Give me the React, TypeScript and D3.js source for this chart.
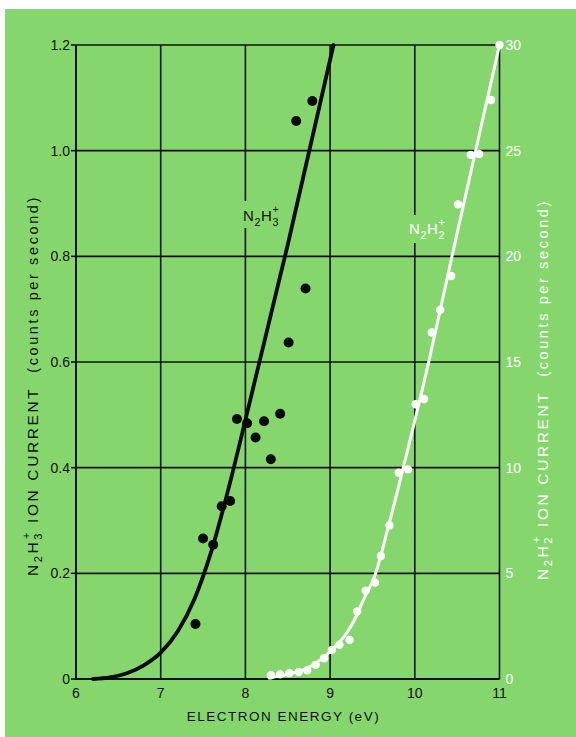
import React from 'react';
import * as d3 from 'd3';

const xTicks = [6, 7, 8, 9, 10, 11];
const leftTicks = [0, 0.2, 0.4, 0.6, 0.8, 1.0, 1.2];
const rightTicks = [0, 5, 10, 15, 20, 25, 30];

// N2H3+ measured points (left axis)
const h3X = [7.41, 7.5, 7.62, 7.72, 7.82, 7.9, 8.02, 8.12, 8.22, 8.3, 8.41, 8.51, 8.6, 8.71, 8.79];
const h3Y = [0.104, 0.266, 0.254, 0.327, 0.337, 0.492, 0.484, 0.457, 0.488, 0.416, 0.502, 0.637, 1.056, 0.739, 1.094];
// N2H3+ fitted curve
const h3CurveX = [6.2, 6.4, 6.6, 6.8, 7.0, 7.2, 7.4, 7.6, 7.8, 8.0, 8.5, 9.04];
const h3CurveY = [0, 0.003, 0.011, 0.026, 0.05, 0.09, 0.152, 0.243, 0.36, 0.49, 0.822, 1.2];

// N2H2+ measured points (right axis)
const h2X = [8.3, 8.41, 8.52, 8.63, 8.73, 8.83, 8.93, 9.02, 9.11, 9.23, 9.32, 9.42, 9.53, 9.6, 9.7, 9.81, 9.92, 10.01, 10.11, 10.2, 10.3, 10.43, 10.51, 10.66, 10.76, 10.9, 11.0];
const h2Y = [0.18, 0.22, 0.28, 0.33, 0.41, 0.67, 0.98, 1.37, 1.62, 1.85, 3.2, 4.18, 4.56, 5.82, 7.26, 9.76, 9.92, 13.0, 13.25, 16.4, 17.46, 19.07, 22.46, 24.8, 24.84, 27.4, 30];
// N2H2+ fitted curve
const h2CurveX = [8.28, 8.5, 8.7, 8.9, 9.0, 9.1, 9.2, 9.3, 9.4, 9.52, 9.7, 9.87, 10.17, 10.45, 10.73, 11.0];
const h2CurveY = [0.05, 0.22, 0.45, 0.95, 1.3, 1.7, 2.2, 2.9, 3.8, 4.8, 7.4, 10.1, 15.1, 20.2, 25.2, 30];

const GREEN = '#86d66e';
const FONT = '"Liberation Sans", Arial, sans-serif';

function Formula({ sub2, x, y, size, fill }: { sub2: string; x: number; y: number; size: number; fill: string }) {
  const s = size * 0.72;
  return (
    <text x={x} y={y} fontSize={size} fill={fill} letterSpacing={0.6}>
      N<tspan dy={size * 0.3} fontSize={s}>2</tspan>
      <tspan dy={-size * 0.3}>H</tspan>
      <tspan dy={size * 0.3} fontSize={s}>{sub2}</tspan>
      <tspan dx={-s * 0.62} dy={-size * 0.85} fontSize={s}>+</tspan>
    </text>
  );
}

export default function App() {
  const x = d3.scaleLinear().domain([6, 11]).range([76, 499.5]);
  const yL = d3.scaleLinear().domain([0, 1.2]).range([679, 45]);
  const yR = d3.scaleLinear().domain([0, 30]).range([679, 45]);

  const h3Line = d3
    .line<number>()
    .x((_, i) => x(h3CurveX[i]))
    .y((d) => yL(d))
    .curve(d3.curveMonotoneX)(h3CurveY) as string;
  const h2Line = d3
    .line<number>()
    .x((_, i) => x(h2CurveX[i]))
    .y((d) => yR(d))
    .curve(d3.curveMonotoneX)(h2CurveY) as string;

  const fmtL = (v: number) => (v === 0 ? '0' : d3.format('.1f')(v));

  const x0 = x(6), x1 = x(11), y0 = yL(0), y1 = yL(1.2);

  const titleText = (sub2: string, fill: string) => (
    <text x={-190} y={0} textAnchor="start" fontSize={15.5} letterSpacing={1.6} fill={fill} textLength={380} lengthAdjust="spacing">
      N<tspan dy={4} fontSize={11}>2</tspan>
      <tspan dy={-4}>H</tspan>
      <tspan dy={4} fontSize={11}>{sub2}</tspan>
      <tspan dx={-8} dy={-12} fontSize={11}>+</tspan>
      <tspan dy={8}>{'\u00a0ION\u00a0CURRENT\u00a0\u00a0'}</tspan>
      <tspan fontSize={14.5}>(counts per second)</tspan>
    </text>
  );

  return (
    <svg
      width={576}
      height={737}
      style={{ position: 'absolute', left: 0, top: 0, display: 'block' }}
      fontFamily={FONT}
    >
      <rect x={0} y={0} width={576} height={737} fill="#ffffff" />
      <rect x={5} y={9} width={571} height={728} fill={GREEN} />

      {/* grid */}
      {xTicks.map((t) => (
        <line key={'gx' + t} x1={x(t)} x2={x(t)} y1={y0} y2={y1} stroke="#111" strokeWidth={1.6} />
      ))}
      {leftTicks.map((t) => (
        <line key={'gy' + t} x1={x0} x2={x1} y1={yL(t)} y2={yL(t)} stroke="#111" strokeWidth={1.6} />
      ))}
      {/* axes */}
      <line x1={x0} x2={x0} y1={y0 + 1} y2={y1} stroke="#111" strokeWidth={2} />
      <line x1={x0} x2={x1} y1={y0} y2={y0} stroke="#111" strokeWidth={2.2} />
      {leftTicks.map((t) => (
        <line key={'lt' + t} x1={x0 - 5} x2={x0} y1={yL(t)} y2={yL(t)} stroke="#111" strokeWidth={1.6} />
      ))}

      {/* left tick labels */}
      {leftTicks.map((t) => (
        <text key={'ll' + t} x={x0 - 6} y={yL(t)} dy="0.35em" textAnchor="end" fontSize={14} fill="#111">
          {fmtL(t)}
        </text>
      ))}
      {/* right tick labels */}
      {rightTicks.map((t) => (
        <text key={'rl' + t} x={x1 + 6} y={yR(t)} dy="0.35em" textAnchor="start" fontSize={14} fill="#ffffff">
          {t}
        </text>
      ))}
      {/* x tick labels */}
      {xTicks.map((t) => (
        <text key={'xl' + t} x={x(t)} y={y0 + 14} dy="0.35em" textAnchor="middle" fontSize={14} fill="#111">
          {t}
        </text>
      ))}

      {/* x title */}
      <text x={283.5} y={716} dy="0.35em" textAnchor="middle" fontSize={13.5} letterSpacing={1.5} fill="#111">
        ELECTRON ENERGY (eV)
      </text>

      {/* left title */}
      <g transform="translate(38,386) rotate(-90)">{titleText('3', '#111')}</g>

      {/* right title */}
      <g transform="translate(548,390) rotate(-90)">{titleText('2', '#ffffff')}</g>

      {/* label backgrounds over gridlines */}
      <rect x={x(8) - 3} y={201} width={6} height={27} fill={GREEN} />
      <rect x={x(10) - 3} y={215} width={6} height={28} fill={GREEN} />

      {/* N2H3+ curve and points */}
      <path d={h3Line} fill="none" stroke="#0a0a0a" strokeWidth={3.8} strokeLinecap="round" />
      {h3X.map((v, i) => (
        <circle key={'p3' + i} cx={x(v)} cy={yL(h3Y[i])} r={5} fill="#0a0a0a" />
      ))}

      {/* N2H2+ curve and points */}
      <path d={h2Line} fill="none" stroke="#ffffff" strokeWidth={3} strokeLinecap="round" />
      {h2X.map((v, i) => (
        <circle key={'p2' + i} cx={x(v)} cy={yR(h2Y[i])} r={4.2} fill="#ffffff" />
      ))}

      {/* series labels */}
      <Formula sub2="3" x={243} y={221} size={15} fill="#111" />
      <Formula sub2="2" x={409} y={234} size={15} fill="#ffffff" />
    </svg>
  );
}
